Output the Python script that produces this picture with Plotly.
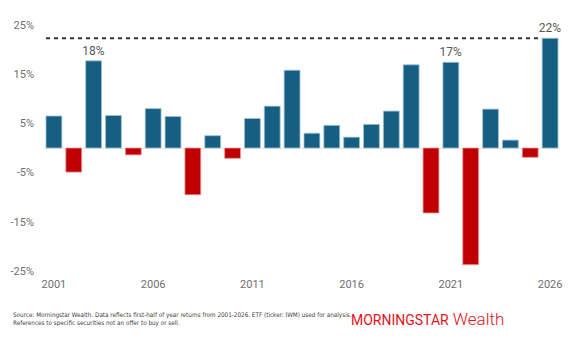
import plotly.graph_objects as go

years = list(range(2001, 2027))
returns = [6.5, -4.9, 17.7, 6.6, -1.4, 8.0, 6.4, -9.5, 2.5, -2.1,
           6.0, 8.5, 15.8, 3.0, 4.6, 2.2, 4.8, 7.5, 16.9, -13.2,
           17.4, -23.7, 7.9, 1.6, -1.9, 22.3]
labels = {2003: "18%", 2021: "17%", 2026: "22%"}
tick_years = [2001, 2006, 2011, 2016, 2021, 2026]
y_ticks = [25, 15, 5, -5, -15, -25]

BLUE = "#175f82"
RED = "#c00000"
FONT = "DejaVu Sans Condensed, Roboto, Arial"

colors = [BLUE if v >= 0 else RED for v in returns]
line_colors = ["#9fc3d6" if v >= 0 else "#e89a9a" for v in returns]

fig = go.Figure()
fig.add_trace(go.Bar(
    x=years, y=returns, width=0.8,
    marker=dict(color=colors, line=dict(color=line_colors, width=0.8)),
    text=[labels.get(y, "") for y in years], textposition="outside",
    constraintext="none",
    textfont=dict(family="Roboto", size=12, color="#595959"),
    cliponaxis=False, hoverinfo="skip",
))

# dashed reference line at latest value
fig.add_shape(type="line", xref="x", yref="y",
              x0=years[0] - 0.4, x1=years[-1] - 0.4,
              y0=returns[-1], y1=returns[-1],
              line=dict(color="#333333", width=2, dash="4px,4px"), layer="below")

fig.update_layout(
    width=585, height=347,
    margin=dict(l=44, r=25, t=20, b=71),
    paper_bgcolor="white", plot_bgcolor="white",
    showlegend=False, bargap=0.2,
    font=dict(family="Roboto", color="#707070", size=11),
    xaxis=dict(range=[2000.5, 2026.5], tickvals=tick_years,
               ticktext=[str(y) for y in tick_years], showgrid=False,
               zeroline=False, showline=False, ticks="",
               tickfont=dict(family="Roboto", size=11, color="#707070")),
    yaxis=dict(range=[-26, 26], tickvals=y_ticks,
               ticktext=[f"{v}%" for v in y_ticks], showgrid=False,
               zeroline=True, zerolinecolor="#e4e4e4", zerolinewidth=1,
               showline=False, ticks="", ticklabelstandoff=9,
               tickfont=dict(family="Roboto", size=11, color="#707070")),
)

fig.add_annotation(
    xref="paper", yref="paper", x=-0.064, y=-0.13, xanchor="left", yanchor="top",
    align="left", showarrow=False,
    text=("Source: Morningstar Wealth. Data reflects first-half of year returns from 2001-2026. "
          "ETF (ticker: IWM) used for analysis.<br>"
          "References to specific securities not an offer to buy or sell."),
    font=dict(family=FONT, size=6.3, color="#404040"),
)
fig.add_annotation(
    xref="paper", yref="paper", x=0.895, y=-0.168, xanchor="right", yanchor="middle",
    showarrow=False,
    text=("<span style='font-size:14px'>MORNINGSTAR</span>"
          "<span style='font-size:17px;font-weight:300'> Wealth</span>"),
    font=dict(family="Roboto", size=17, color="#e3131b"),
)

fig.write_html("out.html")
